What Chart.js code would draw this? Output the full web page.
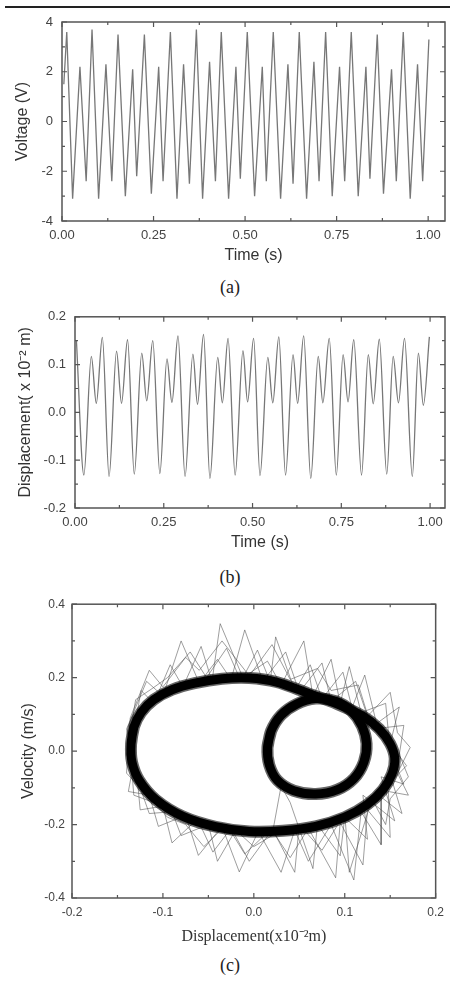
<!DOCTYPE html>
<html lang="en">
<head>
  <meta charset="utf-8">
  <title>Voltage, displacement and phase portrait</title>
  <script src="https://cdn.jsdelivr.net/npm/chart.js@4.4.1/dist/chart.umd.min.js"></script>
  <style>
    body { margin: 0; background: #fff; }
    .page { position: relative; width: 451px; height: 981px; overflow: hidden; background: #fff; }
    .page canvas { position: absolute; left: 0; }
    .rule { position: absolute; left: 5px; top: 6px; width: 445px; border-top: 2px solid #222; }
    .cap { position: absolute; left: 0; width: 460px; text-align: center; line-height: 20px;
           font-family: "Liberation Serif", "Times New Roman", serif; font-size: 18px; color: #222; }
  </style>
</head>
<body>
  <div class="page">
    <div class="rule"></div>
    <canvas id="chartA" width="451" height="265" style="top:0"></canvas>
    <div class="cap" style="top:277px">(a)</div>
    <canvas id="chartB" width="451" height="255" style="top:300px"></canvas>
    <div class="cap" style="top:567px">(b)</div>
    <canvas id="chartC" width="451" height="360" style="top:590px"></canvas>
    <div class="cap" style="top:955px">(c)</div>
  </div>

  <script>
    // (a) voltage, peaks and troughs
    var timeA = [0.005, 0.013, 0.029, 0.049, 0.066, 0.082, 0.100, 0.120, 0.136, 0.153, 0.173, 0.193, 0.204, 0.225,
      0.244, 0.264, 0.276, 0.296, 0.314, 0.332, 0.348, 0.367, 0.384, 0.403, 0.419, 0.435, 0.455, 0.475, 0.487,
      0.506, 0.526, 0.547, 0.558, 0.577, 0.597, 0.617, 0.631, 0.648, 0.668, 0.688, 0.702, 0.720, 0.738, 0.758,
      0.772, 0.790, 0.809, 0.830, 0.841, 0.861, 0.878, 0.900, 0.913, 0.932, 0.951, 0.971, 0.985, 1.002];
    var voltA = [1.5, 3.6, -3.1, 2.2, -2.4, 3.7, -3.1, 2.3, -2.4, 3.5, -3.0, 2.1, -2.2, 3.5,
      -2.9, 2.2, -2.4, 3.6, -3.1, 2.3, -2.5, 3.7, -3.1, 2.4, -2.4, 3.6, -3.1, 2.2, -2.3,
      3.6, -3.0, 2.2, -2.4, 3.6, -3.1, 2.3, -2.5, 3.6, -3.1, 2.4, -2.4, 3.6, -3.0, 2.2,
      -2.4, 3.6, -3.0, 2.2, -2.3, 3.5, -2.9, 2.1, -2.4, 3.6, -3.1, 2.3, -2.4, 3.3];
    var timeTicks = [0, 0.25, 0.5, 0.75, 1.0];
    var voltTicks = [-4, -2, 0, 2, 4];

    // (b) displacement, x10^-2 m
    var timeB = [0.004, 0.025, 0.046, 0.060, 0.077, 0.096, 0.117, 0.131, 0.148, 0.167, 0.188, 0.202, 0.219,
      0.239, 0.259, 0.273, 0.290, 0.310, 0.332, 0.345, 0.362, 0.380, 0.402, 0.415, 0.431, 0.451, 0.473, 0.486,
      0.503, 0.521, 0.543, 0.557, 0.574, 0.593, 0.614, 0.627, 0.644, 0.664, 0.685, 0.698, 0.716, 0.736, 0.755,
      0.769, 0.785, 0.807, 0.826, 0.840, 0.857, 0.878, 0.896, 0.911, 0.928, 0.950, 0.967, 0.981, 0.998];
    var dispB = [0.150, -0.131, 0.117, 0.019, 0.157, -0.134, 0.128, 0.019, 0.152, -0.129, 0.124, 0.024, 0.150,
      -0.128, 0.112, 0.021, 0.160, -0.134, 0.122, 0.017, 0.163, -0.138, 0.115, 0.020, 0.155, -0.131, 0.129, 0.022,
      0.155, -0.132, 0.115, 0.020, 0.158, -0.131, 0.121, 0.019, 0.160, -0.138, 0.117, 0.020, 0.155, -0.131, 0.121,
      0.022, 0.152, -0.131, 0.121, 0.018, 0.153, -0.129, 0.117, 0.020, 0.155, -0.134, 0.124, 0.015, 0.158];
    var dispTicks = [-0.2, -0.1, 0, 0.1, 0.2];

    // (c) phase portrait: the two dense orbits (centre line of each band) ...
    var bigLoopX = [-0.135, -0.132, -0.124, -0.110, -0.090, -0.065, -0.035, -0.005, 0.025, 0.059, 0.092, 0.120,
      0.138, 0.150, 0.155, 0.152, 0.142, 0.125, 0.100, 0.068, 0.032, -0.005, -0.042, -0.078, -0.108, -0.126,
      -0.134, -0.135, -0.132];
    var bigLoopY = [0.020, 0.065, 0.105, 0.140, 0.167, 0.185, 0.197, 0.199, 0.188, 0.158, 0.128, 0.095,
      0.060, 0.020, -0.020, -0.062, -0.105, -0.145, -0.180, -0.205, -0.217, -0.219, -0.206, -0.178, -0.132, -0.080,
      -0.030, 0.020, 0.065];
    var smallLoopX = [0.015, 0.019, 0.030, 0.047, 0.068, 0.090, 0.107, 0.119, 0.124, 0.121, 0.110, 0.092,
      0.068, 0.044, 0.026, 0.017, 0.015, 0.019];
    var smallLoopY = [0.010, 0.055, 0.098, 0.128, 0.143, 0.136, 0.110, 0.068, 0.020, -0.030, -0.075, -0.105,
      -0.117, -0.108, -0.080, -0.038, 0.010, 0.055];
    // ... and the jagged excursions around them
    var jagX = [-0.133, -0.124, -0.110, -0.092, -0.078, -0.058, -0.046, -0.037, -0.012, 0.004, 0.018, 0.024,
      0.045, 0.062, 0.075, 0.098, 0.108, 0.122, 0.135, 0.160, 0.150, 0.168, 0.152, 0.163, 0.140, 0.140, 0.118,
      0.110, 0.085, 0.060, 0.045, 0.030, 0.005, -0.016, -0.035, -0.061, -0.075, -0.105, -0.115, -0.138, -0.132,
      -0.140, -0.118, -0.100, -0.080, -0.060, -0.040, -0.025, -0.010, 0.010, 0.035, 0.050, 0.075, 0.085, 0.112,
      0.125, 0.150, 0.158, 0.172, 0.158, 0.170, 0.148, 0.150, 0.125, 0.120, 0.095, 0.090, 0.060, 0.040, 0.020,
      -0.005, -0.025, -0.045, -0.062, -0.090, -0.100, -0.125, -0.128, -0.140,
      -0.138, -0.130, -0.112, -0.095, -0.070, -0.052, -0.030, -0.015, 0.015, 0.030, 0.055, 0.065, 0.085, 0.095,
      0.105, 0.118, 0.145, 0.150, 0.165, 0.140, 0.155, 0.120, 0.125, 0.100, 0.095, 0.070, 0.065, 0.040, 0.030,
      0.020, 0.000, -0.020, -0.040, -0.050, -0.080, -0.090, -0.115, -0.125, -0.140, -0.138,
      -0.136, -0.115, -0.100, -0.075, -0.060, -0.035, -0.005, 0.020, 0.040, 0.070, 0.085, 0.115, 0.130, 0.165,
      0.160, 0.170, 0.150, 0.145, 0.130, 0.105, 0.100, 0.075, 0.050, 0.045, 0.020, -0.010, -0.030, -0.055,
      -0.075, -0.095, -0.110, -0.132, -0.136];
    var jagY = [0.040, 0.165, 0.130, 0.235, 0.175, 0.285, 0.190, 0.347, 0.200, 0.275, 0.188, 0.311,
      0.165, 0.235, 0.142, 0.215, 0.118, 0.207, 0.075, 0.120, 0.020, -0.040, -0.080, -0.170, -0.125, -0.255, -0.165,
      -0.351, -0.200, -0.300, -0.215, -0.330, -0.218, -0.329, -0.205, -0.284, -0.175, -0.205, -0.120, -0.110, -0.030,
      0.060, 0.190, 0.150, 0.300, 0.185, 0.250, 0.195, 0.330, 0.190, 0.270, 0.160, 0.240, 0.135, 0.190,
      0.095, 0.160, 0.050, 0.010, -0.060, -0.120, -0.110, -0.235, -0.160, -0.310, -0.195, -0.345, -0.210, -0.290, -0.215,
      -0.300, -0.210, -0.275, -0.185, -0.250, -0.150, -0.160, -0.080, -0.010,
      0.020, 0.140, 0.170, 0.200, 0.270, 0.200, 0.280, 0.195, 0.245, 0.180, 0.300, 0.150, 0.250, 0.130,
      0.230, 0.105, 0.130, 0.000, -0.090, -0.070, -0.190, -0.120, -0.240, -0.180, -0.285, -0.200, -0.320, -0.140, -0.095,
      -0.230, -0.260, -0.215, -0.300, -0.200, -0.230, -0.165, -0.170, -0.100, -0.060, 0.020,
      0.090, 0.220, 0.175, 0.255, 0.220, 0.300, 0.205, 0.290, 0.195, 0.225, 0.165, 0.180, 0.060, 0.070,
      -0.010, -0.070, -0.130, -0.200, -0.130, -0.330, -0.170, -0.270, -0.200, -0.330, -0.210, -0.280, -0.200, -0.260,
      -0.200, -0.180, -0.140, -0.120, 0.000];
    var phaseXTicks = [-0.2, -0.1, 0, 0.1, 0.2];
    var phaseYTicks = [-0.4, -0.2, 0, 0.2, 0.4];

    Chart.defaults.font.family = "'Liberation Sans', Arial, sans-serif";
    Chart.defaults.color = '#444';

    function pts(xs, ys) {
      return xs.map(function (x, i) { return { x: x, y: ys[i] }; });
    }

    // one linear axis, fixed box size so the plot areas line up with the figure
    function axis(o) {
      return {
        type: 'linear',
        min: o.min,
        max: o.max,
        grid: { display: false, drawTicks: false },
        border: { display: false },
        afterBuildTicks: function (s) {
          s.ticks = o.ticks.map(function (v) { return { value: v }; });
        },
        afterFit: function (s) {
          if (s.isHorizontal()) s.height = o.size; else s.width = o.size;
        },
        ticks: {
          autoSkip: false, maxRotation: 0, padding: o.pad, color: '#444',
          font: { size: o.fs || 13 }, callback: o.fmt
        },
        title: {
          display: true, text: o.title, color: '#333',
          font: o.titleFont || { size: 16 }, padding: o.titlePad
        }
      };
    }

    // box frame with inward major/minor ticks on all four sides
    var frameTicks = {
      id: 'frameTicks',
      afterDatasetsDraw: function (chart) {
        var ctx = chart.ctx, a = chart.chartArea;
        ctx.save();
        ctx.strokeStyle = '#555';
        ctx.lineWidth = 1.5;
        ctx.strokeRect(a.left, a.top, a.right - a.left, a.bottom - a.top);
        ctx.lineWidth = 1.2;
        ctx.beginPath();
        [chart.scales.x, chart.scales.y].forEach(function (scale) {
          var vals = scale.ticks.map(function (t) { return t.value; });
          var marks = [];
          vals.forEach(function (v, i) {
            marks.push([v, 5]);
            if (i < vals.length - 1) marks.push([(v + vals[i + 1]) / 2, 3]);
          });
          marks.forEach(function (m) {
            var p = scale.getPixelForValue(m[0]);
            if (scale.isHorizontal()) {
              ctx.moveTo(p, a.bottom); ctx.lineTo(p, a.bottom - m[1]);
              ctx.moveTo(p, a.top); ctx.lineTo(p, a.top + m[1]);
            } else {
              ctx.moveTo(a.left, p); ctx.lineTo(a.left + m[1], p);
              ctx.moveTo(a.right, p); ctx.lineTo(a.right - m[1], p);
            }
          });
        });
        ctx.stroke();
        ctx.restore();
      }
    };

    var base = {
      responsive: false,
      animation: false,
      devicePixelRatio: 1,
      plugins: { legend: { display: false }, tooltip: { enabled: false } },
      elements: { point: { radius: 0 } }
    };

    new Chart(document.getElementById('chartA'), {
      type: 'scatter',
      data: {
        datasets: [{
          data: pts(timeA, voltA), showLine: true, borderColor: '#777', borderWidth: 1.3, tension: 0
        }]
      },
      options: Object.assign({}, base, {
        layout: { padding: { left: 0, top: 22, right: 6, bottom: 0 } },
        scales: {
          x: axis({ min: 0, max: 1.046, ticks: timeTicks, size: 44, pad: 7, title: 'Time (s)',
            titlePad: { top: 0, bottom: 0 }, fmt: function (v) { return v.toFixed(2); } }),
          y: axis({ min: -4, max: 4, ticks: voltTicks, size: 62, pad: 9, title: 'Voltage (V)',
            titlePad: { top: 13, bottom: 0 }, fmt: function (v) { return String(v); } })
        }
      }),
      plugins: [frameTicks]
    });

    new Chart(document.getElementById('chartB'), {
      type: 'scatter',
      data: {
        datasets: [{
          data: pts(timeB, dispB), showLine: true, borderColor: '#777', borderWidth: 1.3,
          cubicInterpolationMode: 'monotone'
        }]
      },
      options: Object.assign({}, base, {
        layout: { padding: { left: 0, top: 15, right: 6, bottom: 0 } },
        scales: {
          x: axis({ min: 0, max: 1.042, ticks: timeTicks, size: 47, pad: 7, title: 'Time (s)',
            titlePad: { top: 0, bottom: 3 }, fmt: function (v) { return v.toFixed(2); } }),
          y: axis({ min: -0.2, max: 0.2, ticks: dispTicks, size: 75, pad: 9, title: 'Displacement( x 10\u207B\u00B2 m)',
            titlePad: { top: 16, bottom: 0 }, fmt: function (v) { return v.toFixed(1); } })
        }
      }),
      plugins: [frameTicks]
    });

    new Chart(document.getElementById('chartC'), {
      type: 'scatter',
      data: {
        datasets: [
          { data: pts(smallLoopX, smallLoopY), showLine: true, borderColor: '#000', borderWidth: 9, tension: 0.3 },
          { data: pts(bigLoopX, bigLoopY), showLine: true, borderColor: '#000', borderWidth: 9, tension: 0.3 },
          { data: pts(smallLoopX, smallLoopY), showLine: true, borderColor: 'rgba(0,0,0,0.6)', borderWidth: 12, tension: 0.3 },
          { data: pts(bigLoopX, bigLoopY), showLine: true, borderColor: 'rgba(0,0,0,0.6)', borderWidth: 12, tension: 0.3 },
          { data: pts(jagX, jagY), showLine: true, borderColor: 'rgba(80,80,80,0.7)', borderWidth: 0.8, tension: 0 }
        ]
      },
      options: Object.assign({}, base, {
        layout: { padding: { left: 0, top: 12, right: 13, bottom: 0 } },
        scales: {
          x: axis({ min: -0.2, max: 0.2, ticks: phaseXTicks, size: 52, pad: 7, fs: 12,
            title: 'Displacement(x10\u207B\u00B2m)',
            titleFont: { size: 16, family: "'Liberation Serif', 'Times New Roman', serif" },
            titlePad: { top: 0, bottom: 4 }, fmt: function (v) { return v.toFixed(1); } }),
          y: axis({ min: -0.4, max: 0.4, ticks: phaseYTicks, size: 72, pad: 7, fs: 12, title: 'Velocity (m/s)',
            titlePad: { top: 19, bottom: 0 }, fmt: function (v) { return v.toFixed(1); } })
        }
      }),
      plugins: [frameTicks]
    });
  </script>
</body>
</html>
